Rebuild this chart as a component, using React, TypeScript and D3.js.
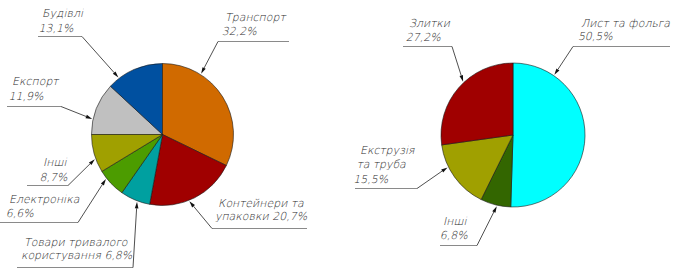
import React from "react";
import * as d3 from "d3";

// ---- data ----
const leftCategories = [
  "Експорт",
  "Будівлі",
  "Транспорт",
  "Контейнери та упаковки",
  "Товари тривалого користування",
  "Електроніка",
  "Інші",
];
const leftValues = [11.9, 13.1, 32.2, 20.7, 6.8, 6.6, 8.7];

const rightCategories = ["Лист та фольга", "Інші", "Екструзія та труба", "Злитки"];
const rightValues = [50.5, 6.8, 15.5, 27.2];

// ---- styles ----
const leftColors = ["#c0c0c0", "#0050a0", "#d06a00", "#a00000", "#00a0a0", "#4c9c00", "#a0a000"];
const rightColors = ["#00ffff", "#336600", "#a0a000", "#a00000"];

// ---- label layout (lines use %v for the value) ----
type LabelLayout = {
  lines: string[];
  x: number;
  y: number; // first baseline
  lh: number;
  ux1: number;
  ux2: number;
  uy: number;
  elbowRight: boolean;
  frac: number; // where the arrow hits within the slice
};

const leftLabels: LabelLayout[] = [
  { lines: ["Експорт", "%v"], x: 12, y: 85, lh: 15, ux1: 7, ux2: 61, uy: 106, elbowRight: true, frac: 0.29 },
  { lines: ["Будівлі", "%v"], x: 42, y: 17, lh: 15, ux1: 38, ux2: 82, uy: 36, elbowRight: true, frac: 0.2 },
  { lines: ["Транспорт", "%v"], x: 225, y: 21, lh: 14, ux1: 218, ux2: 289, uy: 41, elbowRight: false, frac: 0.28 },
  { lines: ["Контейнери та", "упаковки %v"], x: 218, y: 207, lh: 13.5, ux1: 212, ux2: 307, uy: 228, elbowRight: false, frac: 0.566 },
  { lines: ["Товари тривалого", "користування %v"], x: 24, y: 246, lh: 13.5, ux1: 17, ux2: 133, uy: 267, elbowRight: true, frac: 0.42 },
  { lines: ["Електроніка", "%v"], x: 9, y: 203, lh: 14, ux1: 0, ux2: 78, uy: 222, elbowRight: true, frac: 0.71 },
  { lines: ["Інші", "%v"], x: 43, y: 166, lh: 15, ux1: 27, ux2: 68, uy: 185, elbowRight: true, frac: 0.36 },
];

const rightLabels: LabelLayout[] = [
  { lines: ["Лист та фольга", "%v"], x: 581, y: 27, lh: 13.5, ux1: 573, ux2: 670, uy: 46, elbowRight: false, frac: 0.19 },
  { lines: ["Інші", "%v"], x: 443, y: 225, lh: 14, ux1: 440, ux2: 477, uy: 245, elbowRight: true, frac: 0.45 },
  { lines: ["Екструзія", "та труба", "%v"], x: 360, y: 154, lh: 14.5, ux1: 355, ux2: 417, uy: 188, elbowRight: true, frac: 0.67 },
  { lines: ["Злитки", "%v"], x: 409, y: 27, lh: 14, ux1: 403, ux2: 452, uy: 46, elbowRight: true, frac: 0.56 },
];

const fmt = (v: number) => d3.format(".1f")(v).replace(".", ",") + "%";

const FONT = "'DejaVu Sans', sans-serif";

type PieProps = {
  values: number[];
  colors: string[];
  labels: LabelLayout[];
  cx: number;
  cy: number;
  r: number;
  start: number;
};

function Pie({ values, colors, labels, cx, cy, r, start }: PieProps) {
  const pie = d3
    .pie<number>()
    .sort(null)
    .value((d) => d)
    .startAngle(start)
    .endAngle(start + 2 * Math.PI);
  const arcs = pie(values);
  const arc = d3.arc<d3.PieArcDatum<number>>().innerRadius(0).outerRadius(r);

  return (
    <g>
      <g transform={`translate(${cx},${cy})`}>
        {arcs.map((a, i) => (
          <path key={i} d={arc(a) || ""} fill={colors[i]} stroke="#1a1a1a" strokeWidth={0.6} strokeLinejoin="round" />
        ))}
      </g>
      {arcs.map((a, i) => {
        const L = labels[i];
        const ang = a.startAngle + (a.endAngle - a.startAngle) * L.frac;
        const tx = cx + Math.sin(ang) * (r + 1);
        const ty = cy - Math.cos(ang) * (r + 1);
        const ex = L.elbowRight ? L.ux2 : L.ux1;
        const ey = L.uy;
        const dx = tx - ex;
        const dy = ty - ey;
        const len = Math.hypot(dx, dy);
        const ux = dx / len;
        const uy = dy / len;
        const ah = 6.5;
        const aw = 1.8;
        const bx = tx - ux * ah;
        const by = ty - uy * ah;
        const p1 = `${bx - uy * aw},${by + ux * aw}`;
        const p2 = `${bx + uy * aw},${by - ux * aw}`;
        return (
          <g key={"l" + i}>
            <line x1={L.ux1} y1={ey + 0.5} x2={L.ux2} y2={ey + 0.5} stroke="#8a8a8a" strokeWidth={1} />
            <line x1={ex} y1={ey + 0.5} x2={bx} y2={by} stroke="#222" strokeWidth={0.8} />
            <polygon points={`${tx},${ty} ${p1} ${p2}`} fill="#111" />
            <text
              transform={`translate(${L.x},${L.y}) skewX(-13)`}
              style={{ fontFamily: FONT, fontSize: "11px", fontWeight: 300 }}
              fill="#2a2a2a"
            >
              {L.lines.map((ln, k) => (
                <tspan key={k} x={0} y={k * L.lh}>
                  {ln.replace("%v", fmt(values[i]))}
                </tspan>
              ))}
            </text>
          </g>
        );
      })}
    </g>
  );
}

export default function App() {
  return (
    <svg
      width={677}
      height={272}
      viewBox="0 0 677 272"
      style={{ position: "absolute", left: 0, top: 0, background: "#fff" }}
    >
      <rect width={677} height={272} fill="#fff" />
      <Pie values={leftValues} colors={leftColors} labels={leftLabels} cx={162.5} cy={134.5} r={71} start={-Math.PI / 2} />
      <Pie values={rightValues} colors={rightColors} labels={rightLabels} cx={513} cy={135} r={72} start={0} />
      <title>{leftCategories.join(", ") + " | " + rightCategories.join(", ")}</title>
    </svg>
  );
}
